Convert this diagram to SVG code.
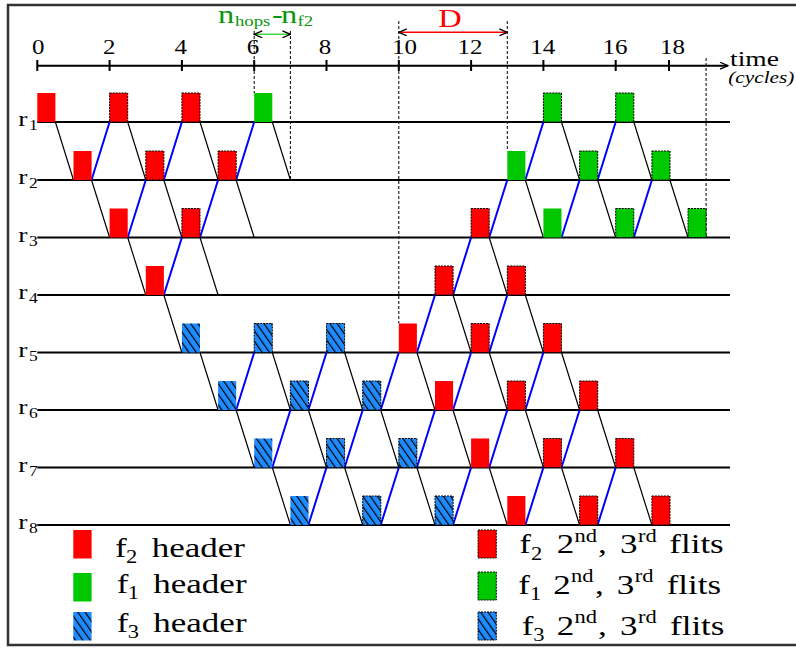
<svg xmlns="http://www.w3.org/2000/svg" width="796" height="648" viewBox="0 0 796 648">
<defs>
<style>
.t{font-family:"Liberation Serif","Times New Roman",serif;fill:#000}
.row{stroke:#000;stroke-width:2;fill:none}
.dn{stroke:#000;stroke-width:1.2;fill:none}
.up{stroke:#0000ff;stroke-width:2;fill:none}
.dash{stroke:#000;stroke-width:1;stroke-dasharray:3,2;fill:none}
.R{fill:#ff0000}
.G{fill:#00c800}
.B{fill:url(#hatch)}
.d{stroke:#000;stroke-width:1;stroke-dasharray:2,1}
</style>
<pattern id="hatch" width="6" height="10" patternUnits="userSpaceOnUse" patternTransform="rotate(-35)">
<rect width="6" height="10" fill="#1e8cff"/>
<line x1="0.6" y1="0" x2="0.6" y2="10" stroke="#000" stroke-width="1.2"/>
</pattern>
<marker id="ah" viewBox="0 0 10 8" refX="9" refY="4" markerWidth="10" markerHeight="8" markerUnits="userSpaceOnUse" orient="auto-start-reverse">
<path d="M1,0.5 L9,4 L1,7.5" fill="none" stroke="#000" stroke-width="1.3"/>
</marker>
</defs>
<rect x="0" y="0" width="796" height="648" fill="#fff"/>
<rect x="8" y="5" width="800" height="640" fill="none" stroke="#333" stroke-width="2.5"/>

<g id="axis">
<line x1="37.3" y1="65.7" x2="728" y2="65.7" stroke="#000" stroke-width="2" marker-end="url(#ah)"/>
<path d="M37.3,60V71M109.6,60V71M181.9,60V71M254.2,60V71M326.5,60V71M398.8,60V71M471.1,60V71M543.4,60V71M615.7,60V71M669,60V71" stroke="#000" stroke-width="2"/>
<g class="t" font-size="20" text-anchor="middle">
<text transform="translate(38.3,54) scale(1.25,1)">0</text>
<text transform="translate(109.3,54) scale(1.25,1)">2</text>
<text transform="translate(180.8,54) scale(1.25,1)">4</text>
<text transform="translate(253,54) scale(1.25,1)">6</text>
<text transform="translate(325,54) scale(1.25,1)">8</text>
<text transform="translate(404.5,54) scale(1.25,1)">10</text>
<text transform="translate(470,54) scale(1.25,1)">12</text>
<text transform="translate(542.8,54) scale(1.25,1)">14</text>
<text transform="translate(615,54) scale(1.25,1)">16</text>
<text transform="translate(672.5,54) scale(1.25,1)">18</text>
</g>
<text class="t" font-size="22" transform="translate(730,66) scale(1.25,1)">time</text>
<text class="t" font-size="17" font-style="italic" transform="translate(728.3,82.5) scale(1.25,1)">(cycles)</text>
</g>

<g id="annotations">
<path class="dash" d="M254.2,31V93M290.4,31V180M398.8,21V323.5M507.3,21V151M706.1,58V237.5"/>
<line x1="254.2" y1="34.3" x2="290.4" y2="34.3" stroke="#40d840" stroke-width="1.6" marker-start="url(#ah)" marker-end="url(#ah)"/>
<line x1="398.8" y1="32.3" x2="507.3" y2="32.3" stroke="#ff0000" stroke-width="1.6" marker-start="url(#ah)" marker-end="url(#ah)"/>
<text class="t" font-size="26" style="fill:#ff0000" text-anchor="middle" transform="translate(450,27.3) scale(1.25,1)">D</text>
<g class="t" style="fill:#0a960a">
<text font-size="26" transform="translate(218,23.3) scale(1.25,1)">n</text>
<text font-size="15" transform="translate(235,26) scale(1.25,1)">hops</text>
<text font-size="26" transform="translate(272,23.3) scale(1.25,1)">-</text>
<text font-size="26" transform="translate(281,23.3) scale(1.25,1)">n</text>
<text font-size="15" transform="translate(297.5,26) scale(1.25,1)">f2</text>
</g>
</g>

<g id="rows">
<path class="row" d="M37.3,122H730M37.3,180H730M37.3,237.5H730M37.3,295H730M37.3,352.5H730M37.3,410H730M37.3,467.5H730M37.3,525H730"/>
<g class="t">
<text font-size="22" transform="translate(18.3,126) scale(1.25,1)">r</text><text font-size="14" transform="translate(29,130) scale(1.25,1)">1</text>
<text font-size="22" transform="translate(18.3,184) scale(1.25,1)">r</text><text font-size="14" transform="translate(29,188) scale(1.25,1)">2</text>
<text font-size="22" transform="translate(18.3,241.5) scale(1.25,1)">r</text><text font-size="14" transform="translate(29,245.5) scale(1.25,1)">3</text>
<text font-size="22" transform="translate(18.3,299) scale(1.25,1)">r</text><text font-size="14" transform="translate(29,303) scale(1.25,1)">4</text>
<text font-size="22" transform="translate(18.3,356.5) scale(1.25,1)">r</text><text font-size="14" transform="translate(29,360.5) scale(1.25,1)">5</text>
<text font-size="22" transform="translate(18.3,414) scale(1.25,1)">r</text><text font-size="14" transform="translate(29,418) scale(1.25,1)">6</text>
<text font-size="22" transform="translate(18.3,471.5) scale(1.25,1)">r</text><text font-size="14" transform="translate(29,475.5) scale(1.25,1)">7</text>
<text font-size="22" transform="translate(18.3,529) scale(1.25,1)">r</text><text font-size="14" transform="translate(29,533) scale(1.25,1)">8</text>
</g>
</g>

<g id="connectors">
<path class="dn" d="M55.4,122L73.5,180M127.7,122L145.8,180M200,122L218.1,180M272.3,122L290.4,180M561.5,122L579.6,180M633.8,122L651.9,180
M91.5,180L109.6,237.5M163.8,180L181.9,237.5M236.1,180L254.2,237.5M525.3,180L543.4,237.5M597.6,180L615.7,237.5M669.9,180L688,237.5
M127.7,237.5L145.8,295M200,237.5L218.1,295M489.2,237.5L507.3,295
M163.8,295L181.9,352.5M453,295L471.1,352.5M525.3,295L543.4,352.5
M200,352.5L218.1,410M272.3,352.5L290.4,410M344.6,352.5L362.7,410M416.9,352.5L435,410M489.2,352.5L507.3,410M561.5,352.5L579.6,410
M236.1,410L254.2,467.5M308.4,410L326.5,467.5M380.7,410L398.8,467.5M453,410L471.1,467.5M525.3,410L543.4,467.5M597.6,410L615.7,467.5
M272.3,467.5L290.4,525M344.6,467.5L362.7,525M416.9,467.5L435,525M489.2,467.5L507.3,525M561.5,467.5L579.6,525M633.8,467.5L651.9,525"/>
<path class="up" d="M91.5,180L109.6,122M163.8,180L181.9,122M236.1,180L254.2,122M525.3,180L543.4,122M597.6,180L615.7,122
M127.7,237.5L145.8,180M200,237.5L218.1,180M489.2,237.5L507.3,180M561.5,237.5L579.6,180M633.8,237.5L651.9,180
M163.8,295L181.9,237.5M453,295L471.1,237.5
M416.9,352.5L435,295M489.2,352.5L507.3,295
M236.1,410L254.2,352.5M308.4,410L326.5,352.5M380.7,410L398.8,352.5M453,410L471.1,352.5M525.3,410L543.4,352.5
M272.3,467.5L290.4,410M344.6,467.5L362.7,410M416.9,467.5L435,410M489.2,467.5L507.3,410M561.5,467.5L579.6,410
M308.4,525L326.5,467.5M380.7,525L398.8,467.5M453,525L471.1,467.5M525.3,525L543.4,467.5M597.6,525L615.7,467.5"/>
</g>

<g id="flits">
<g id="r1-0"><rect class="R" x="37.3" y="93" width="18.1" height="29"/></g>
<g id="r1-2"><rect class="R d" x="109.6" y="93" width="18.1" height="29"/></g>
<g id="r1-4"><rect class="R d" x="181.9" y="93" width="18.1" height="29"/></g>
<g id="r1-6"><rect class="G" x="254.2" y="93" width="18.1" height="29"/></g>
<g id="r1-14"><rect class="G d" x="543.4" y="93" width="18.1" height="29"/></g>
<g id="r1-16"><rect class="G d" x="615.7" y="93" width="18.1" height="29"/></g>

<g id="r2-1"><rect class="R" x="73.5" y="151" width="18.1" height="29"/></g>
<g id="r2-3"><rect class="R d" x="145.8" y="151" width="18.1" height="29"/></g>
<g id="r2-5"><rect class="R d" x="218.1" y="151" width="18.1" height="29"/></g>
<g id="r2-13"><rect class="G" x="507.3" y="151" width="18.1" height="29"/></g>
<g id="r2-15"><rect class="G d" x="579.6" y="151" width="18.1" height="29"/></g>
<g id="r2-17"><rect class="G d" x="651.9" y="151" width="18.1" height="29"/></g>

<g id="r3-2"><rect class="R" x="109.6" y="208.5" width="18.1" height="29"/></g>
<g id="r3-4"><rect class="R d" x="181.9" y="208.5" width="18.1" height="29"/></g>
<g id="r3-12"><rect class="R d" x="471.1" y="208.5" width="18.1" height="29"/></g>
<g id="r3-14"><rect class="G" x="543.4" y="208.5" width="18.1" height="29"/></g>
<g id="r3-16"><rect class="G d" x="615.7" y="208.5" width="18.1" height="29"/></g>
<g id="r3-18"><rect class="G d" x="688" y="208.5" width="18.1" height="29"/></g>

<g id="r4-3"><rect class="R" x="145.8" y="266" width="18.1" height="29"/></g>
<g id="r4-11"><rect class="R d" x="435" y="266" width="18.1" height="29"/></g>
<g id="r4-13"><rect class="R d" x="507.3" y="266" width="18.1" height="29"/></g>

<g id="r5-4"><rect class="B" x="181.9" y="323.5" width="18.1" height="29"/></g>
<g id="r5-6"><rect class="B d" x="254.2" y="323.5" width="18.1" height="29"/></g>
<g id="r5-8"><rect class="B d" x="326.5" y="323.5" width="18.1" height="29"/></g>
<g id="r5-10"><rect class="R" x="398.8" y="323.5" width="18.1" height="29"/></g>
<g id="r5-12"><rect class="R d" x="471.1" y="323.5" width="18.1" height="29"/></g>
<g id="r5-14"><rect class="R d" x="543.4" y="323.5" width="18.1" height="29"/></g>

<g id="r6-5"><rect class="B" x="218.1" y="381" width="18.1" height="29"/></g>
<g id="r6-7"><rect class="B d" x="290.4" y="381" width="18.1" height="29"/></g>
<g id="r6-9"><rect class="B d" x="362.7" y="381" width="18.1" height="29"/></g>
<g id="r6-11"><rect class="R" x="435" y="381" width="18.1" height="29"/></g>
<g id="r6-13"><rect class="R d" x="507.3" y="381" width="18.1" height="29"/></g>
<g id="r6-15"><rect class="R d" x="579.6" y="381" width="18.1" height="29"/></g>

<g id="r7-6"><rect class="B" x="254.2" y="438.5" width="18.1" height="29"/></g>
<g id="r7-8"><rect class="B d" x="326.5" y="438.5" width="18.1" height="29"/></g>
<g id="r7-10"><rect class="B d" x="398.8" y="438.5" width="18.1" height="29"/></g>
<g id="r7-12"><rect class="R" x="471.1" y="438.5" width="18.1" height="29"/></g>
<g id="r7-14"><rect class="R d" x="543.4" y="438.5" width="18.1" height="29"/></g>
<g id="r7-16"><rect class="R d" x="615.7" y="438.5" width="18.1" height="29"/></g>

<g id="r8-7"><rect class="B" x="290.4" y="496" width="18.1" height="29"/></g>
<g id="r8-9"><rect class="B d" x="362.7" y="496" width="18.1" height="29"/></g>
<g id="r8-11"><rect class="B d" x="435" y="496" width="18.1" height="29"/></g>
<g id="r8-13"><rect class="R" x="507.3" y="496" width="18.1" height="29"/></g>
<g id="r8-15"><rect class="R d" x="579.6" y="496" width="18.1" height="29"/></g>
<g id="r8-17"><rect class="R d" x="651.9" y="496" width="18.1" height="29"/></g>
</g>

<g id="legend">
<rect class="R" x="73.3" y="530" width="18.3" height="28.5"/>
<rect class="G" x="73.3" y="573" width="18.3" height="28.5"/>
<rect class="B" x="73.3" y="612" width="18.3" height="28.5"/>
<rect class="R d" x="478" y="530" width="18.3" height="28"/>
<rect class="G d" x="478" y="572" width="18.3" height="28"/>
<rect class="B d" x="478" y="612" width="18.3" height="28"/>
<g class="t">
<text font-size="28" transform="translate(115,556.7) scale(1.25,1)">f</text><text font-size="18" transform="translate(126,563) scale(1.25,1)">2</text><text font-size="28" transform="translate(151.7,556.7) scale(1.25,1)">header</text>
<text font-size="28" transform="translate(116.7,592.7) scale(1.25,1)">f</text><text font-size="18" transform="translate(127.7,599) scale(1.25,1)">1</text><text font-size="28" transform="translate(153.3,592.7) scale(1.25,1)">header</text>
<text font-size="28" transform="translate(116.7,631.7) scale(1.25,1)">f</text><text font-size="18" transform="translate(127.7,638) scale(1.25,1)">3</text><text font-size="28" transform="translate(153.3,631.7) scale(1.25,1)">header</text>

<text font-size="28" transform="translate(519.3,553.3) scale(1.25,1)">f</text><text font-size="18" transform="translate(531,559.5) scale(1.25,1)">2</text><text font-size="28" transform="translate(556.7,553.3) scale(1.25,1)">2</text><text font-size="18" transform="translate(574.5,541.7) scale(1.25,1)">nd</text><text font-size="28" transform="translate(598,553.3) scale(1.25,1)">,</text><text font-size="28" transform="translate(620,553.3) scale(1.25,1)">3</text><text font-size="18" transform="translate(638,541.7) scale(1.25,1)">rd</text><text font-size="28" transform="translate(669.3,553.3) scale(1.25,1)">flits</text>
<text font-size="28" transform="translate(518.3,594) scale(1.25,1)">f</text><text font-size="18" transform="translate(530,600.2) scale(1.25,1)">1</text><text font-size="28" transform="translate(553.3,594) scale(1.25,1)">2</text><text font-size="18" transform="translate(571.1,582.4) scale(1.25,1)">nd</text><text font-size="28" transform="translate(595,594) scale(1.25,1)">,</text><text font-size="28" transform="translate(616.7,594) scale(1.25,1)">3</text><text font-size="18" transform="translate(634.7,582.4) scale(1.25,1)">rd</text><text font-size="28" transform="translate(666.7,594) scale(1.25,1)">flits</text>
<text font-size="28" transform="translate(521.7,635) scale(1.25,1)">f</text><text font-size="18" transform="translate(533.3,641.2) scale(1.25,1)">3</text><text font-size="28" transform="translate(556.7,635) scale(1.25,1)">2</text><text font-size="18" transform="translate(574.5,623.4) scale(1.25,1)">nd</text><text font-size="28" transform="translate(598,635) scale(1.25,1)">,</text><text font-size="28" transform="translate(620,635) scale(1.25,1)">3</text><text font-size="18" transform="translate(638,623.4) scale(1.25,1)">rd</text><text font-size="28" transform="translate(670,635) scale(1.25,1)">flits</text>
</g>
</g>
</svg>
